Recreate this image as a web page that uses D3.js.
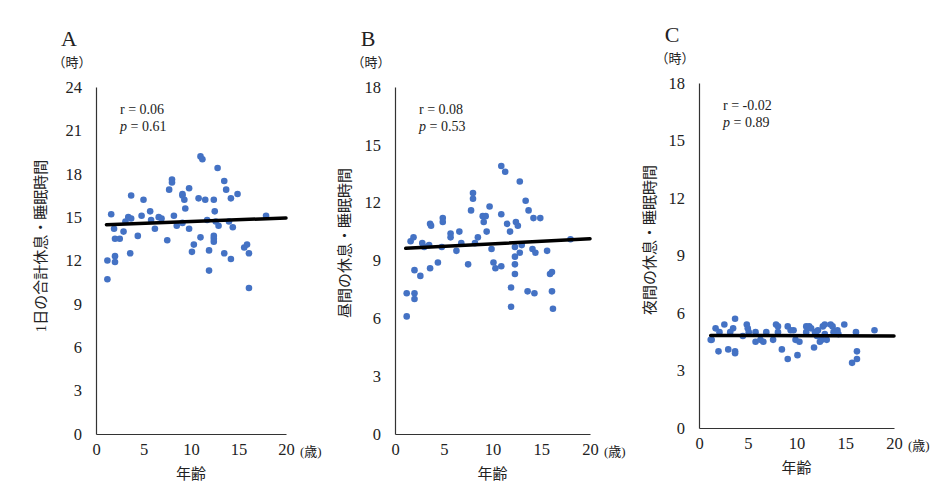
<!DOCTYPE html>
<html>
<head>
<meta charset="utf-8">
<script src="https://cdn.jsdelivr.net/npm/d3@7"></script>
<style>
  body { margin: 0; background: #fff; }
  svg text { font-family: "Liberation Serif", "Noto Sans CJK JP", serif; fill: #222; }
</style>
</head>
<body>
<script>
// panel A : total rest/sleep per day
var agesA = [1.2, 1.2, 1.6, 1.9, 2.0, 2.0, 2.0, 2.5, 2.9, 3.1, 3.4, 3.7, 3.6, 3.7, 4.4, 4.8, 5.0, 5.7, 5.8, 6.2,
  6.6, 6.9, 7.5, 7.7, 8.0, 8.0, 8.2, 8.5, 9.1, 9.1, 9.3, 9.1, 9.4, 9.8, 9.8, 10.1, 10.3, 10.8, 11.0, 11.2,
  11.0, 11.5, 11.7, 11.9, 11.9, 12.4, 12.4, 12.4, 12.4, 12.5, 12.6, 12.9, 12.8, 13.5, 13.7, 13.5, 14.0, 14.2, 14.2, 14.4,
  14.9, 15.6, 15.9, 16.1, 16.1, 17.9];
var hoursA = [12.0, 10.7, 15.2, 14.2, 12.3, 11.9, 13.5, 13.5, 14.0, 14.7, 15.0, 14.9, 12.5, 16.5, 13.7, 15.1, 16.2, 15.4, 14.8, 14.2,
  15.0, 14.9, 13.4, 16.9, 17.6, 17.4, 15.1, 14.4, 16.6, 16.5, 16.2, 14.6, 15.6, 17.0, 14.2, 12.6, 13.1, 16.3, 19.2, 19.0,
  13.6, 16.2, 14.8, 11.3, 12.7, 13.7, 13.5, 13.3, 16.2, 15.4, 14.7, 14.4, 18.4, 17.5, 16.9, 12.5, 14.7, 16.3, 12.1, 14.3,
  16.6, 12.9, 13.1, 12.5, 10.1, 15.1];

// panel B : daytime rest/sleep
var agesB = [1.2, 1.2, 2.0, 2.0, 1.6, 1.9, 2.0, 2.6, 2.8, 3.0, 3.5, 3.6, 3.6, 3.7, 4.4, 4.8, 4.9, 4.9, 5.7, 5.7,
  6.3, 6.6, 6.8, 7.5, 7.8, 8.0, 8.0, 8.2, 8.5, 9.0, 9.3, 9.1, 9.4, 9.7, 9.9, 10.1, 10.3, 10.9, 10.9, 10.9,
  11.3, 11.5, 11.8, 11.9, 11.9, 12.3, 12.3, 12.3, 12.3, 12.4, 12.6, 12.8, 13.0, 12.8, 13.4, 13.7, 13.6, 14.1, 14.4, 14.2,
  14.9, 14.3, 15.6, 15.9, 16.1, 16.1, 16.2, 18.0];
var hoursB = [6.1, 7.3, 7.3, 7.0, 10.0, 10.2, 8.5, 8.2, 9.9, 9.7, 9.8, 8.6, 10.9, 10.8, 8.9, 9.7, 11.2, 11.0, 10.4, 10.2,
  9.5, 10.5, 9.9, 8.8, 11.6, 12.5, 12.2, 9.9, 10.2, 11.3, 11.3, 11.0, 10.5, 11.8, 9.6, 8.9, 8.6, 8.7, 11.4, 13.9,
  13.6, 10.9, 10.5, 7.6, 6.6, 8.8, 8.3, 9.7, 9.2, 11.0, 10.8, 9.4, 9.8, 13.1, 12.1, 11.6, 7.4, 9.6, 9.4, 11.2,
  11.2, 7.3, 9.5, 8.3, 8.4, 7.4, 6.5, 10.1];

// panel C : night rest/sleep
var agesC = [1.2, 1.3, 1.7, 2.0, 2.1, 2.6, 3.0, 3.2, 3.5, 3.7, 3.7, 3.7, 4.5, 4.9, 5.0, 5.1, 5.8, 5.8, 6.3, 6.6,
  6.9, 7.6, 7.9, 8.1, 8.1, 8.5, 9.1, 9.4, 9.1, 9.7, 9.9, 10.1, 10.3, 11.0, 11.0, 11.3, 11.5, 11.8, 11.9, 12.1,
  12.2, 12.4, 12.6, 12.7, 12.9, 12.9, 13.1, 13.5, 13.7, 13.8, 14.2, 14.3, 14.9, 15.7, 16.2, 16.2, 16.1, 18.0];
var hoursC = [4.6, 4.6, 5.2, 4.0, 5.0, 5.4, 4.1, 5.0, 5.2, 5.7, 4.0, 3.9, 4.8, 5.4, 5.2, 5.0, 5.0, 4.5, 4.6, 4.5,
  5.0, 4.6, 5.4, 5.3, 5.0, 4.1, 5.3, 5.1, 3.6, 5.1, 4.6, 3.8, 4.5, 5.3, 5.0, 5.3, 5.2, 4.2, 5.0, 4.8,
  5.1, 4.5, 4.6, 5.3, 5.4, 4.9, 4.6, 5.4, 5.3, 5.0, 5.1, 4.9, 5.4, 3.4, 3.6, 4.0, 5.0, 5.1];

// fitted lines: [x0, y0, x1, y1]
var trendA = [1.1, 14.48, 20, 14.94];
var trendB = [1.1, 9.63, 20, 10.13];
var trendC = [1.2, 4.83, 20, 4.80];

var statsA = ["0.06", "0.61"];
var statsB = ["0.08", "0.53"];
var statsC = ["-0.02", "0.89"];

var letters = ["A", "B", "C"];
var yTitles = ["1日の合計休息・睡眠時間", "昼間の休息・睡眠時間", "夜間の休息・睡眠時間"];
var yMaxes = [24, 18, 18];
var xTicks = [0, 5, 10, 15, 20];

var width = 939, height = 499;

var panels = [
  { ages: agesA, hours: hoursA, trend: trendA, stats: statsA, left: 96, right: 286, top: 87, bottom: 434, titleX: 43, titleY: 246 },
  { ages: agesB, hours: hoursB, trend: trendB, stats: statsB, left: 395, right: 590, top: 87, bottom: 434, titleX: 347, titleY: 243 },
  { ages: agesC, hours: hoursC, trend: trendC, stats: statsC, left: 699, right: 894, top: 83, bottom: 428, titleX: 652, titleY: 240 }
];

var svg = d3.select("body").append("svg")
  .attr("width", width)
  .attr("height", height);

panels.forEach(function (p, i) {
  var x = d3.scaleLinear().domain([0, 20]).range([p.left, p.right]);
  var y = d3.scaleLinear().domain([0, yMaxes[i]]).range([p.bottom, p.top]);
  var g = svg.append("g");

  // axes
  var yAxis = d3.axisLeft(y).tickValues(d3.range(0, yMaxes[i] + 1, 3)).tickSize(0).tickPadding(14);
  var xAxis = d3.axisBottom(x).tickValues(xTicks).tickSize(0).tickPadding(9);

  var ya = g.append("g").attr("transform", "translate(" + x(0) + ",0)").call(yAxis);
  var xa = g.append("g").attr("transform", "translate(0," + y(0) + ")").call(xAxis);
  [ya, xa].forEach(function (a) {
    a.select(".domain").attr("stroke", "#333").attr("stroke-width", 1.2);
    a.selectAll("text")
      .attr("font-family", "Liberation Serif, serif")
      .attr("font-size", 16.5)
      .attr("fill", "#222");
  });

  // points
  g.selectAll("circle")
    .data(p.ages.map(function (a, k) { return [a, p.hours[k]]; }))
    .enter()
    .append("circle")
    .attr("cx", function (d) { return x(d[0]); })
    .attr("cy", function (d) { return y(d[1]); })
    .attr("r", 3.3)
    .attr("fill", "#4472C4");

  // trend line
  g.append("line")
    .attr("x1", x(p.trend[0]))
    .attr("y1", y(p.trend[1]))
    .attr("x2", x(p.trend[2]))
    .attr("y2", y(p.trend[3]))
    .attr("stroke", "#000")
    .attr("stroke-width", 3.5)
    .attr("stroke-linecap", "round");

  // labels
  g.append("text")
    .attr("x", p.left - 27)
    .attr("y", p.top - 41)
    .attr("text-anchor", "middle")
    .attr("font-size", 22)
    .text(letters[i]);

  g.append("text")
    .attr("x", p.left - 24)
    .attr("y", p.top - 20)
    .attr("text-anchor", "middle")
    .attr("font-size", 13)
    .text("（時）");

  var st = g.append("text")
    .attr("x", p.left + 24)
    .attr("y", p.top + 27)
    .attr("font-size", 14);
  st.append("tspan").text("r = " + p.stats[0]);
  var pl = g.append("text")
    .attr("x", p.left + 24)
    .attr("y", p.top + 44)
    .attr("font-size", 14);
  pl.append("tspan").attr("font-style", "italic").text("p");
  pl.append("tspan").text(" = " + p.stats[1]);

  g.append("text")
    .attr("x", x(20) + 14)
    .attr("y", p.bottom + 22)
    .attr("font-size", 13)
    .text("(歳)");

  g.append("text")
    .attr("x", x(10))
    .attr("y", p.bottom + 45)
    .attr("text-anchor", "middle")
    .attr("font-size", 15)
    .text("年齢");

  g.append("text")
    .attr("transform", "translate(" + p.titleX + "," + p.titleY + ") rotate(-90)")
    .attr("text-anchor", "middle")
    .attr("dominant-baseline", "middle")
    .attr("font-size", 15)
    .text(yTitles[i]);
});
</script>
</body>
</html>
